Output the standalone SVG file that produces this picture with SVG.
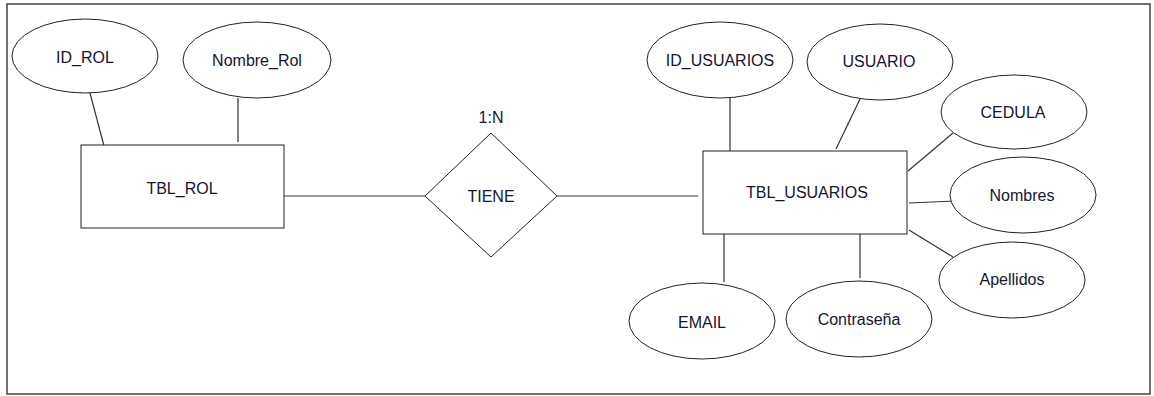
<svg xmlns="http://www.w3.org/2000/svg" width="1154" height="396" viewBox="0 0 1154 396">
<style>
.bg{fill:#fff}
.frame{fill:none;stroke:#444;stroke-width:1.5}
.attr,.ent,.rel{fill:#fff;stroke:#222;stroke-width:1}
.lnk{stroke:#333;stroke-width:1.2;fill:none}
text{font-family:"Liberation Sans",Arial,sans-serif;font-size:16px;fill:#151530;text-anchor:middle;dominant-baseline:central}
</style>
<rect class="bg" x="0" y="0" width="1154" height="396"/>
<rect class="frame" x="7" y="4" width="1143" height="390"/>
<g id="connectors">
<line class="lnk" x1="90" y1="93" x2="104" y2="146"/>
<line class="lnk" x1="238" y1="98" x2="238" y2="142"/>
<line class="lnk" x1="284" y1="196" x2="425" y2="196"/>
<line class="lnk" x1="557" y1="196" x2="698" y2="196"/>
<line class="lnk" x1="730" y1="98" x2="730" y2="151"/>
<line class="lnk" x1="860" y1="99" x2="836" y2="149"/>
<line class="lnk" x1="953" y1="133" x2="908" y2="171"/>
<line class="lnk" x1="909" y1="203" x2="955" y2="201"/>
<line class="lnk" x1="909" y1="230" x2="953" y2="257"/>
<line class="lnk" x1="724" y1="234" x2="724" y2="282"/>
<line class="lnk" x1="860" y1="234" x2="860" y2="278"/>
</g>
<g id="id_rol"><ellipse class="attr" cx="85" cy="56" rx="73" ry="37"/><text x="85" y="57">ID_ROL</text></g>
<g id="nombre_rol"><ellipse class="attr" cx="257" cy="60" rx="74" ry="38"/><text x="257" y="60">Nombre_Rol</text></g>
<g id="tbl_rol"><rect class="ent" x="81" y="145" width="203" height="83"/><text x="182" y="188">TBL_ROL</text></g>
<g id="tiene"><polygon class="rel" points="425,196 491,133 557,196 491,257"/><text x="491" y="196">TIENE</text><text x="491" y="117">1:N</text></g>
<g id="tbl_usuarios"><rect class="ent" x="703" y="151" width="204" height="83"/><text x="807" y="192">TBL_USUARIOS</text></g>
<g id="id_usuarios"><ellipse class="attr" cx="720" cy="60" rx="73" ry="38"/><text x="720" y="60">ID_USUARIOS</text></g>
<g id="usuario"><ellipse class="attr" cx="880" cy="62" rx="73" ry="38"/><text x="879" y="61">USUARIO</text></g>
<g id="cedula"><ellipse class="attr" cx="1014" cy="112" rx="73" ry="37"/><text x="1013" y="112">CEDULA</text></g>
<g id="nombres"><ellipse class="attr" cx="1023" cy="195" rx="73" ry="38"/><text x="1022" y="195">Nombres</text></g>
<g id="apellidos"><ellipse class="attr" cx="1012" cy="280" rx="73" ry="38"/><text x="1012" y="279">Apellidos</text></g>
<g id="email"><ellipse class="attr" cx="702" cy="321" rx="73" ry="38"/><text x="702" y="322">EMAIL</text></g>
<g id="contrasena"><ellipse class="attr" cx="859" cy="319" rx="73" ry="38"/><text x="859" y="319">Contraseña</text></g>
</svg>
